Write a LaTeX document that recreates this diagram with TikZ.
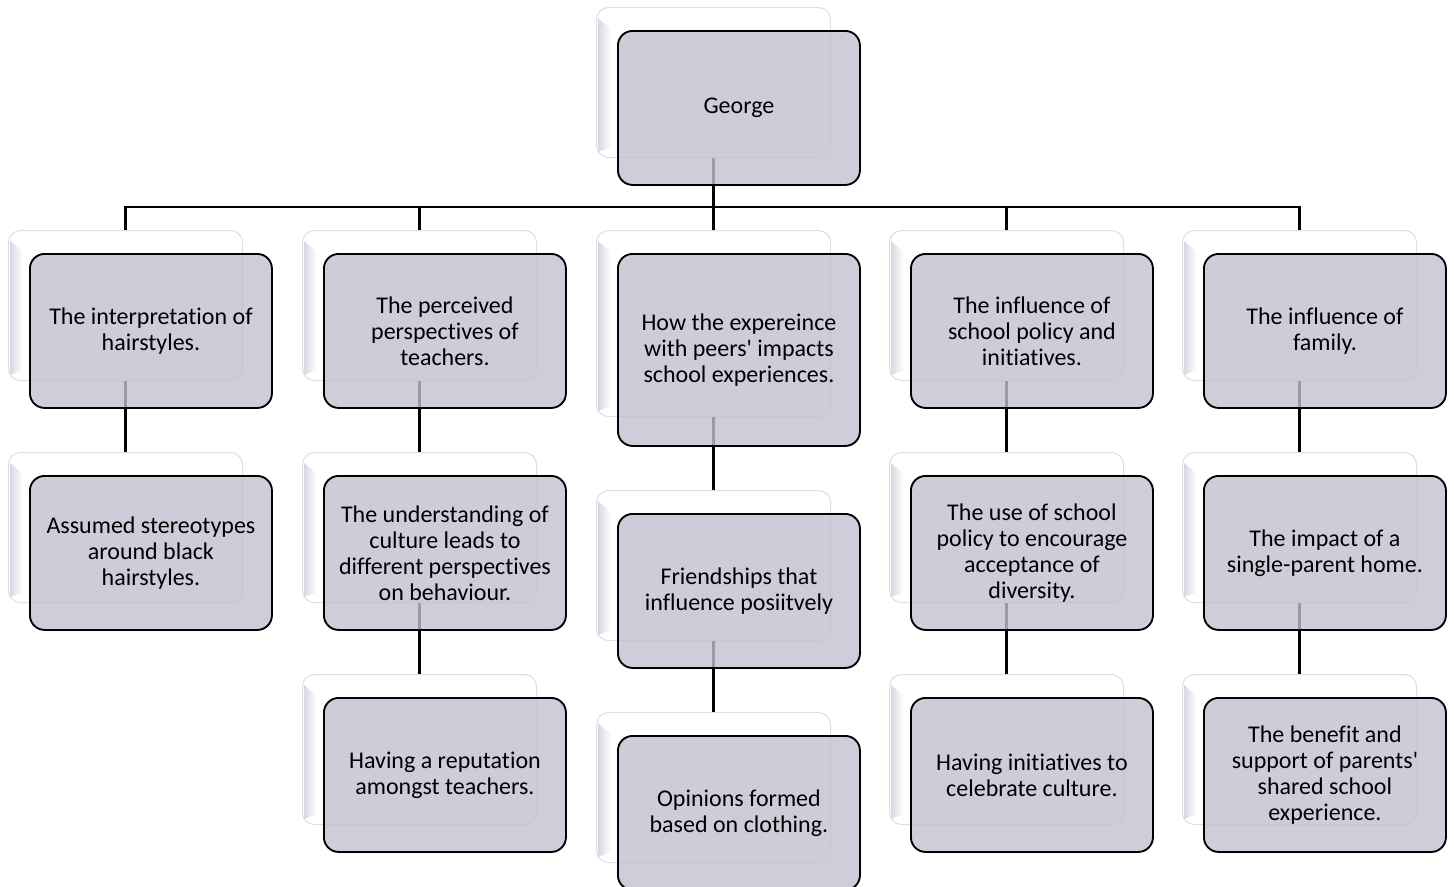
\documentclass[tikz,border=0pt]{standalone}
\usepackage{fontspec}
\setmainfont{Carlito}[Ligatures={TeXOff,NoCommon}]
\usetikzlibrary{backgrounds}
\definecolor{cardfill}{RGB}{195,192,209}
\definecolor{bevel}{RGB}{216,216,228}
\definecolor{backline}{RGB}{222,222,228}

\tikzset{
  backcard/.style={draw=backline, line width=0.8pt, fill=white, rounded corners=9pt,
    anchor=north west, inner sep=0pt, minimum width=175.5pt},
  frontcard/.style={draw=black, line width=1.4pt, fill=cardfill, fill opacity=0.8,
    text opacity=1, rounded corners=11pt, anchor=north west, align=center,
    inner sep=0pt, minimum width=181.5pt, font=\fontsize{18}{19.5}\selectfont},
  link/.style={draw=black, line width=1.6pt},
}

% #1 name, #2 x, #3 y (top-left of the rear card, px), #4 rear height,
% #5 front height, #6 label
\newcommand{\cardpair}[6]{%
  \node[backcard, minimum height=#4*0.75pt] (#1b) at (#2,#3) {};
  \shade[left color=bevel, right color=white]
    (#2+2,#3+11) -- (#2+15,#3+22) -- (#2+15,#3+#4-10) -- (#2+2,#3+#4-5) -- cycle;
  \node[frontcard, minimum height=#5*0.75pt] (#1) at (#2+21,#3+23) {#6};
}

\begin{document}
\begin{tikzpicture}[x=0.75pt, y=-0.75pt]
\useasboundingbox (0,0) rectangle (1454,886);
\begin{scope}
\clip (0,0) rectangle (1454,886);

% root
\cardpair{g}{596}{7}{150}{154}{George}

% first level
\cardpair{a1}{8}{230}{150}{154}{The interpretation of\\hairstyles.}
\cardpair{b1}{302}{230}{150}{154}{The perceived\\perspectives of\\teachers.}
\cardpair{c1}{596}{230}{186}{192}{How the expereince\\with peers' impacts\\school experiences.}
\cardpair{d1}{889}{230}{150}{154}{The influence of\\school policy and\\initiatives.}
\cardpair{e1}{1182}{230}{150}{154}{The influence of\\family.}

% second level
\cardpair{a2}{8}{452}{150}{154}{Assumed stereotypes\\around black\\hairstyles.}
\cardpair{b2}{302}{452}{150}{154}{The understanding of\\culture leads to\\different perspectives\\on behaviour.}
\cardpair{c2}{596}{490}{150}{154}{Friendships that\\influence posiitvely}
\cardpair{d2}{889}{452}{150}{154}{The use of school\\policy to encourage\\acceptance of\\diversity.}
\cardpair{e2}{1182}{452}{150}{154}{The impact of a\\single-parent home.}

% third level
\cardpair{b3}{302}{674}{150}{154}{Having a reputation\\amongst teachers.}
\cardpair{c3}{596}{712}{150}{154}{Opinions formed\\based on clothing.}
\cardpair{d3}{889}{674}{150}{154}{Having initiatives to\\celebrate culture.}
\cardpair{e3}{1182}{674}{150}{154}{The benefit and\\support of parents'\\shared school\\experience.}

% connectors, kept behind the cards
\coordinate (bus) at (713,207);
\begin{pgfonlayer}{background}
  \draw[link] (gb.south) -- (c1b.north);
  \draw[link] (a1b.north) |- (bus) -| (e1b.north);
  \draw[link] (b1b.north) -- (b1b.north |- bus);
  \draw[link] (d1b.north) -- (d1b.north |- bus);
  \draw[link] (a1b.south) -- (a2b.north);
  \draw[link] (b1b.south) -- (b2b.north);
  \draw[link] (b2b.south) -- (b3b.north);
  \draw[link] (c1b.south) -- (c2b.north);
  \draw[link] (c2b.south) -- (c3b.north);
  \draw[link] (d1b.south) -- (d2b.north);
  \draw[link] (d2b.south) -- (d3b.north);
  \draw[link] (e1b.south) -- (e2b.north);
  \draw[link] (e2b.south) -- (e3b.north);
\end{pgfonlayer}
\end{scope}
\end{tikzpicture}
\end{document}
